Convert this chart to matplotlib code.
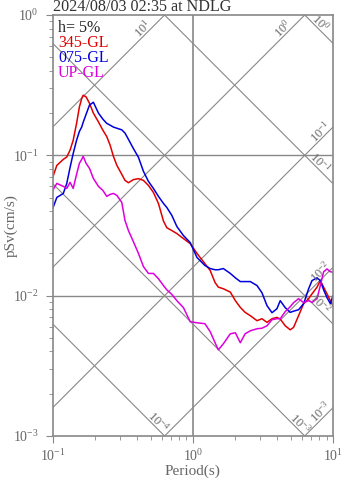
import numpy as np
import matplotlib
matplotlib.use("Agg")
import matplotlib.pyplot as plt

plt.rcParams['font.family'] = ['Liberation Serif', 'DejaVu Serif']
plt.rcParams['mathtext.fontset'] = 'custom'
plt.rcParams['mathtext.rm'] = 'Liberation Serif'
plt.rcParams['mathtext.default'] = 'regular'

# Pseudo-velocity response spectra, h = 5%
period = [0.1, 0.107, 0.119, 0.126, 0.133, 0.140, 0.148, 0.155, 0.161, 0.165,
          0.173, 0.183, 0.195, 0.212, 0.228, 0.243, 0.257, 0.271, 0.287, 0.311,
          0.328, 0.347, 0.376, 0.409, 0.444, 0.482, 0.523, 0.568, 0.617, 0.652,
          0.708, 0.769, 0.857, 0.957, 1.07, 1.22, 1.33, 1.44, 1.52, 1.65,
          1.85, 2.01, 2.18, 2.36, 2.57, 2.87, 3.11, 3.38, 3.67, 3.98,
          4.20, 4.56, 4.95, 5.23, 5.68, 6.17, 6.70, 7.08, 7.69, 8.12,
          8.57, 9.06, 9.57, 10.0]

sv_345 = [0.0697, 0.0848, 0.0936, 0.0973, 0.109, 0.128, 0.169, 0.221, 0.254, 0.268,
          0.261, 0.235, 0.200, 0.173, 0.151, 0.136, 0.118, 0.0984, 0.0848, 0.0732,
          0.0663, 0.0638, 0.0671, 0.0682, 0.0663, 0.0610, 0.0544, 0.0454, 0.0340, 0.0305,
          0.0291, 0.0277, 0.0255, 0.0235, 0.0200, 0.0169, 0.0151, 0.0124, 0.0115, 0.0112,
          0.0106, 0.00921, 0.00825, 0.00760, 0.00720, 0.00663, 0.00685, 0.00645, 0.00685, 0.00700,
          0.00682, 0.00610, 0.00571, 0.00594, 0.00720, 0.00877, 0.00952, 0.0103, 0.0115, 0.0128,
          0.0115, 0.0103, 0.00921, 0.00849]

sv_075 = [0.0418, 0.0501, 0.0535, 0.0631, 0.0820, 0.103, 0.128, 0.148, 0.159, 0.172,
          0.196, 0.228, 0.239, 0.200, 0.181, 0.169, 0.164, 0.159, 0.156, 0.152,
          0.144, 0.130, 0.112, 0.0968, 0.0769, 0.0652, 0.0581, 0.0510, 0.0454, 0.0425,
          0.0373, 0.0311, 0.0268, 0.0239, 0.0187, 0.0164, 0.0156, 0.0153, 0.0153, 0.0156,
          0.0144, 0.0134, 0.0126, 0.0126, 0.0126, 0.0118, 0.0105, 0.00849, 0.00756, 0.00807,
          0.00921, 0.00821, 0.00760, 0.00775, 0.00794, 0.00877, 0.0112, 0.0128, 0.0134, 0.0128,
          0.0110, 0.00968, 0.00877, 0.0100]

sv_up = [0.0562, 0.0631, 0.0601, 0.0581, 0.0642, 0.0581, 0.0732, 0.0877, 0.0936, 0.0984,
         0.0877, 0.0807, 0.0685, 0.0601, 0.0562, 0.0510, 0.0527, 0.0535, 0.0518, 0.0462,
         0.0343, 0.0291, 0.0243, 0.0200, 0.0161, 0.0144, 0.0144, 0.0132, 0.0118, 0.0110,
         0.0102, 0.00921, 0.00821, 0.00652, 0.00641, 0.00631, 0.00553, 0.00462, 0.00411, 0.00454,
         0.00535, 0.00544, 0.00462, 0.00535, 0.00562, 0.00581, 0.00586, 0.00610, 0.00674, 0.00685,
         0.00685, 0.00769, 0.00834, 0.00891, 0.00952, 0.00891, 0.00921, 0.00896, 0.00952, 0.0118,
         0.0148, 0.0155, 0.0148, 0.0147]

components = ['345-GL', '075-GL', 'UP-GL']
colors = ['#e00000', '#0000dd', '#dd00dd']

# tripartite grid: constant acceleration (cm/s2) and displacement (cm)
accel_exp = [1, 0, -1, -2, -3]
accel_label_t = [0.472, 4.72, 8.67, 8.67, 8.67]
disp_exp = [0, -1, -2, -3, -4]
disp_label_t = [7.6, 7.6, 7.6, 5.47, 0.529]

grid_col = '#888888'
text_col = '#666666'

fig = plt.figure(figsize=(3.47, 4.78), dpi=100)
ax = fig.add_axes([0.1519, 0.0879, 0.8078, 0.8807])
ax.set_xscale('log')
ax.set_yscale('log')
ax.set_xlim(0.1, 10)
ax.set_ylim(1e-3, 1)

ax.axhline(0.1, color=grid_col, lw=1.0)
ax.axhline(0.01, color=grid_col, lw=1.0)
ax.axvline(1.0, color=grid_col, lw=1.2)

tt = np.array([0.01, 100.0])
for k, tl in zip(accel_exp, accel_label_t):
    a = 10.0 ** k
    ax.plot(tt, a * tt / (2 * np.pi), color=grid_col, lw=0.8)
    ax.annotate(r'$10^{%d}$' % k, (tl, a * tl / (2 * np.pi)),
                xytext=(-4, 4), textcoords='offset pixels',
                rotation=45, ha='center', va='center',
                fontsize=9, color=text_col)
for k, tl in zip(disp_exp, disp_label_t):
    d = 10.0 ** k
    ax.plot(tt, 2 * np.pi * d / tt, color=grid_col, lw=0.8)
    ax.annotate(r'$10^{%d}$' % k, (tl, 2 * np.pi * d / tl),
                xytext=(4, 4), textcoords='offset pixels',
                rotation=-45, ha='center', va='center',
                fontsize=9, color=text_col)

for sv, c in zip([sv_345, sv_075, sv_up], colors):
    ax.plot(period, sv, color=c, lw=1.1)

ax.text(0.019, 0.969, 'h= 5%', transform=ax.transAxes, va='center',
        fontsize=11.5, color='#222222')
for i, (name, c) in enumerate(zip(components, colors)):
    ax.text(0.019, 0.969 - 0.0356 * (i + 1), name, transform=ax.transAxes,
            va='center', fontsize=11.5, color=c)

for s in ax.spines.values():
    s.set_color(grid_col)
    s.set_linewidth(1.2)
ax.tick_params(which='both', direction='out', color=grid_col,
               labelcolor=text_col, labelsize=10, top=False, right=False)
ax.tick_params(which='major', length=5)
ax.tick_params(which='minor', length=3)
ax.tick_params(axis='y', pad=5)
ax.tick_params(axis='x', pad=4)

ax.set_xlabel('Period(s)', fontsize=11, color=text_col, labelpad=0)
fig.text(11 / 347, 1 - 226 / 478, 'pSv(cm/s)', fontsize=11, color=text_col,
         rotation=90, ha='center', va='center')
fig.text(53 / 347, 1 - 11 / 478, '2024/08/03 02:35 at NDLG', fontsize=11.6,
         color='#333333', va='baseline')

fig.savefig('out.png', dpi=100)
